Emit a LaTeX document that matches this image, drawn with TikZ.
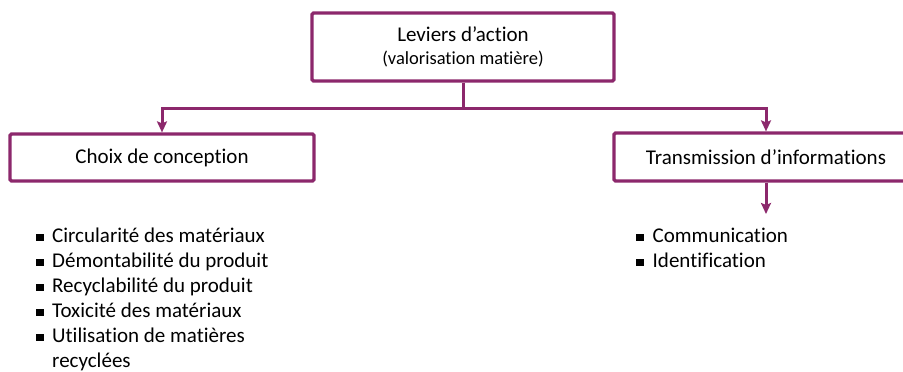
\documentclass[tikz,border=0pt]{standalone}
\usepackage{fontspec}
\setmainfont{Carlito}[Ligatures=NoCommon]
\usetikzlibrary{arrows.meta}
\definecolor{lev}{RGB}{140,40,108}
\newcommand{\bul}{\rule[1pt]{7.5pt}{7.5pt}}
\begin{document}
\begin{tikzpicture}[x=1pt,y=-1pt,
  boxstyle/.style={draw=lev,line width=3.2pt,rounded corners=1.5pt,fill=white,inner sep=0pt,align=center},
  conn/.style={draw=lev,line width=3pt},
  arr/.style={conn,-{Stealth[length=11pt,width=10pt,inset=2pt]}},
  listtext/.style={inner sep=0pt,anchor=north west,font=\fontsize{21}{25}\selectfont}
]
\clip (0,0) rectangle (903,372);
\fill[white] (0,0) rectangle (903,372);
\node[boxstyle,minimum width=302pt,minimum height=68pt,font=\fontsize{21}{23}\selectfont] (top) at (463,47)
  {\raisebox{0pt}[0pt][0pt]{}Leviers d’action\\{\fontsize{18.5}{23}\selectfont (valorisation matière)}};
\node[boxstyle,minimum width=304pt,minimum height=47pt,font=\fontsize{21}{25}\selectfont] (choix) at (162,157.5) {Choix de conception};
\node[boxstyle,minimum width=304pt,minimum height=48pt,font=\fontsize{21}{25}\selectfont] (trans) at (766,157) {Transmission d’informations};
\draw[conn] (top.south) -- ++(0,26) coordinate (j);
\draw[arr] (j) -| (choix.north);
\draw[arr] (j) -| (trans.north);
\coordinate (tend) at (766,214);
\draw[arr] (trans.south) -- (tend);
\node[listtext] (l1) at (36,224.5) {\begin{tabular}{@{}l@{\hspace{8.5pt}}l@{}}
\bul & Circularité des matériaux\\
\bul & Démontabilité du produit\\
\bul & Recyclabilité du produit\\
\bul & Toxicité des matériaux\\
\bul & Utilisation de matières\\
 & recyclées
\end{tabular}};
\node[listtext] (l2) at (636,224.5) {\begin{tabular}{@{}l@{\hspace{9pt}}l@{}}
\bul & Communication\\
\bul & Identification
\end{tabular}};
\end{tikzpicture}
\end{document}
